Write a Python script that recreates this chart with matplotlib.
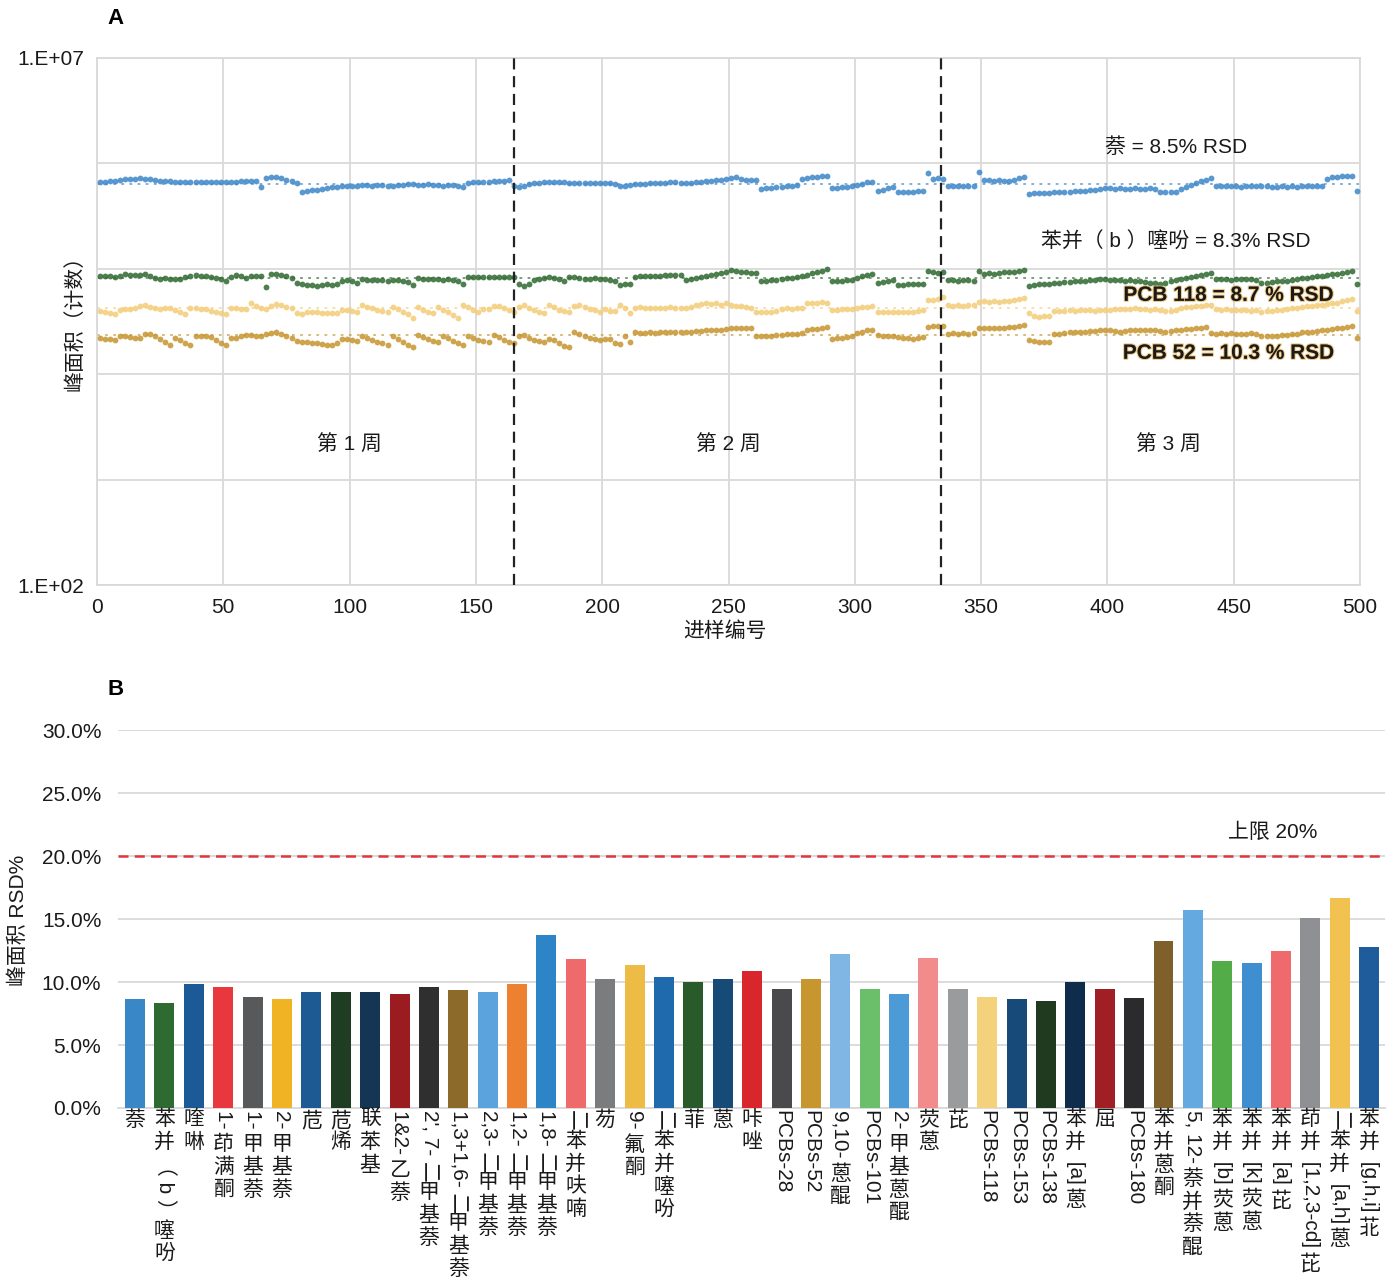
import numpy as np
import matplotlib
matplotlib.use('Agg')
import matplotlib.pyplot as plt
import matplotlib.patheffects as pe
from matplotlib.ticker import FixedLocator, FixedFormatter, NullLocator

plt.rcParams['font.family'] = ['Liberation Sans', 'Noto Sans CJK SC']
plt.rcParams['axes.unicode_minus'] = False

# ---- panel A: peak areas of every other injection over three weeks ----
inj = np.arange(1, 500, 2)

naph = np.array([
    6.66, 6.73, 6.81, 6.88, 6.96, 7.11, 7.19, 7.19, 7.27, 7.19,
    7.11, 6.96, 6.88, 6.81, 6.81, 6.73, 6.73, 6.66, 6.73, 6.66,
    6.66, 6.66, 6.59, 6.66, 6.66, 6.66, 6.73, 6.73, 6.81, 6.81,
    6.81, 6.81, 5.91, 7.27, 7.35, 7.35, 7.27, 7.03, 6.81, 6.52,
    5.41, 5.47, 5.59, 5.65, 5.71, 5.84, 5.91, 5.97, 6.04, 6.10,
    6.17, 6.17, 6.24, 6.24, 6.17, 6.24, 6.24, 6.04, 6.17, 6.24,
    6.24, 6.31, 6.31, 6.24, 6.24, 6.31, 6.24, 6.24, 6.04, 6.24,
    6.24, 6.17, 5.91, 6.52, 6.59, 6.66, 6.73, 6.73, 6.81, 6.81,
    6.88, 6.96, 6.10, 5.91, 6.10, 6.31, 6.45, 6.52, 6.59, 6.59,
    6.59, 6.59, 6.59, 6.52, 6.52, 6.52, 6.45, 6.52, 6.52, 6.45,
    6.45, 6.45, 6.38, 6.04, 6.10, 6.24, 6.31, 6.38, 6.38, 6.45,
    6.45, 6.52, 6.52, 6.59, 6.59, 6.52, 6.45, 6.52, 6.59, 6.66,
    6.81, 6.88, 6.96, 7.03, 7.11, 7.27, 7.35, 7.11, 7.03, 6.96,
    6.96, 5.71, 5.78, 5.84, 5.91, 5.97, 6.10, 6.17, 6.24, 7.19,
    7.27, 7.35, 7.43, 7.52, 7.63, 5.80, 5.84, 5.91, 5.97, 6.04,
    6.24, 6.38, 6.59, 6.66, 5.47, 5.65, 5.78, 5.97, 5.35, 5.35,
    5.41, 5.41, 5.47, 5.47, 8.10, 7.19, 7.27, 7.19, 6.17, 6.17,
    6.17, 6.10, 6.17, 6.17, 8.34, 6.96, 6.96, 6.88, 6.96, 6.81,
    6.81, 7.03, 7.27, 7.43, 5.18, 5.23, 5.23, 5.29, 5.29, 5.35,
    5.35, 5.41, 5.41, 5.47, 5.53, 5.53, 5.59, 5.65, 5.71, 5.78,
    5.78, 5.71, 5.78, 5.71, 5.71, 5.78, 5.71, 5.71, 5.78, 5.71,
    5.41, 5.35, 5.35, 5.41, 5.71, 5.97, 6.24, 6.52, 6.81, 7.03,
    7.22, 6.04, 6.04, 6.10, 6.04, 6.04, 5.97, 6.04, 6.10, 6.04,
    6.04, 6.10, 5.97, 5.97, 6.04, 5.97, 6.04, 5.97, 6.04, 6.04,
    6.04, 6.04, 6.10, 7.19, 7.35, 7.43, 7.52, 7.60, 7.63, 5.47]) * 1e5

bbt = np.array([
    8.54, 8.54, 8.54, 8.45, 8.63, 9.02, 8.82, 8.73, 8.73, 9.02,
    8.54, 8.18, 8.09, 8.18, 8.09, 8.09, 8.00, 8.36, 8.63, 8.73,
    8.63, 8.54, 8.45, 8.27, 8.00, 7.66, 8.36, 8.73, 8.54, 8.27,
    8.63, 8.63, 8.54, 6.65, 8.92, 9.02, 8.82, 8.54, 8.27, 7.33,
    7.10, 7.02, 7.02, 6.94, 7.02, 7.10, 7.02, 7.10, 7.66, 7.83,
    7.58, 7.33, 8.09, 7.91, 7.83, 7.83, 7.83, 7.74, 7.83, 7.83,
    7.74, 7.50, 7.02, 8.18, 8.09, 8.00, 8.00, 8.00, 7.91, 8.00,
    7.91, 7.66, 7.17, 8.36, 8.45, 8.45, 8.45, 8.36, 8.45, 8.45,
    8.45, 8.45, 8.36, 7.25, 6.80, 7.17, 7.83, 8.00, 8.18, 8.45,
    8.27, 8.00, 7.66, 8.36, 8.45, 8.27, 8.09, 8.09, 8.18, 8.09,
    8.00, 7.91, 7.74, 7.02, 7.17, 7.25, 8.45, 8.54, 8.54, 8.54,
    8.63, 8.63, 8.73, 8.73, 8.82, 8.82, 7.83, 8.00, 8.27, 8.45,
    8.63, 8.82, 9.02, 9.22, 9.42, 9.74, 9.53, 9.42, 9.32, 9.22,
    9.22, 7.58, 7.66, 7.83, 7.91, 8.00, 8.18, 8.27, 8.45, 8.63,
    8.82, 9.12, 9.32, 9.63, 9.96, 7.58, 7.66, 7.74, 7.83, 7.83,
    8.18, 8.54, 8.82, 8.92, 7.33, 7.50, 7.66, 7.83, 7.02, 7.02,
    7.10, 7.17, 7.25, 7.25, 9.53, 9.32, 9.22, 9.32, 7.83, 7.83,
    7.74, 7.83, 7.83, 7.74, 9.53, 9.02, 9.12, 9.02, 9.12, 9.32,
    9.32, 9.42, 9.63, 9.74, 6.94, 7.02, 7.10, 7.17, 7.25, 7.33,
    7.33, 7.50, 7.50, 7.58, 7.66, 7.74, 7.83, 7.91, 8.00, 8.09,
    7.83, 7.91, 7.83, 7.74, 7.83, 7.66, 7.58, 7.50, 7.41, 7.33,
    7.25, 7.33, 7.58, 7.83, 8.00, 8.18, 8.36, 8.54, 8.73, 8.92,
    9.06, 8.09, 8.00, 8.00, 7.91, 8.00, 8.09, 8.00, 8.00, 7.91,
    7.33, 7.33, 7.50, 7.58, 7.66, 7.74, 7.91, 8.00, 8.18, 8.27,
    8.36, 8.54, 8.63, 8.73, 8.92, 9.02, 9.22, 9.42, 9.53, 7.10]) * 1e4

pcb118 = np.array([
    3.98, 3.89, 3.81, 3.73, 4.11, 4.15, 4.20, 4.25, 4.44, 4.53,
    4.39, 4.25, 4.15, 4.25, 4.29, 4.11, 3.89, 3.69, 4.29, 4.25,
    4.20, 4.15, 4.02, 3.89, 3.77, 3.69, 4.29, 4.25, 4.20, 4.15,
    4.69, 4.48, 4.29, 4.15, 4.44, 4.63, 4.53, 4.39, 4.25, 3.77,
    3.69, 3.89, 3.93, 3.89, 3.85, 3.81, 3.81, 3.77, 4.07, 4.11,
    4.02, 3.93, 4.53, 4.39, 4.25, 4.11, 4.02, 3.93, 4.34, 4.20,
    3.93, 3.69, 3.45, 4.34, 4.11, 3.89, 3.77, 4.34, 4.11, 3.89,
    3.65, 3.45, 4.53, 4.34, 4.11, 3.93, 4.15, 4.20, 4.44, 4.48,
    4.25, 4.07, 3.93, 4.34, 4.53, 4.29, 4.11, 3.93, 3.81, 4.53,
    4.34, 4.11, 3.98, 3.89, 4.44, 4.58, 4.39, 4.20, 4.07, 3.93,
    4.15, 4.02, 3.98, 4.53, 4.25, 3.81, 4.29, 4.34, 4.25, 4.29,
    4.29, 4.25, 4.29, 4.34, 4.29, 4.25, 4.29, 4.39, 4.53, 4.63,
    4.69, 4.63, 4.69, 4.58, 4.69, 4.53, 4.48, 4.44, 4.39, 4.29,
    3.93, 3.93, 3.89, 3.93, 3.98, 4.20, 4.25, 4.20, 4.25, 4.25,
    4.79, 4.74, 4.79, 4.84, 4.79, 4.07, 4.11, 4.15, 4.20, 4.20,
    4.29, 4.34, 4.39, 4.44, 3.93, 3.93, 3.93, 3.89, 3.93, 3.93,
    3.93, 3.93, 4.02, 4.07, 5.01, 5.06, 5.12, 5.40, 4.53, 4.48,
    4.53, 4.48, 4.53, 4.53, 4.84, 4.90, 4.84, 4.90, 4.84, 4.90,
    4.95, 5.06, 5.17, 5.23, 3.77, 3.53, 3.49, 3.53, 3.53, 3.98,
    4.02, 3.98, 4.07, 4.02, 4.11, 4.07, 4.11, 4.02, 4.07, 4.11,
    4.11, 4.15, 4.20, 4.15, 4.20, 4.25, 4.20, 4.15, 4.11, 4.15,
    4.07, 3.98, 4.02, 4.11, 4.25, 4.34, 4.39, 4.44, 4.48, 4.53,
    4.53, 4.15, 4.11, 4.15, 4.11, 4.07, 4.11, 4.07, 4.02, 4.07,
    3.93, 3.98, 4.02, 4.07, 4.11, 4.15, 4.25, 4.29, 4.34, 4.44,
    4.48, 4.53, 4.58, 4.63, 4.74, 4.79, 4.90, 5.01, 5.12, 4.02]) * 1e4

pcb52 = np.array([
    2.21, 2.18, 2.16, 2.11, 2.30, 2.28, 2.25, 2.23, 2.21, 2.41,
    2.43, 2.30, 2.16, 2.02, 1.91, 2.21, 2.09, 1.98, 1.89, 2.30,
    2.30, 2.28, 2.25, 2.11, 1.98, 1.89, 2.21, 2.23, 2.28, 2.35,
    2.35, 2.33, 2.28, 2.41, 2.46, 2.49, 2.41, 2.30, 2.21, 2.07,
    2.02, 2.00, 1.98, 1.96, 1.93, 1.91, 1.89, 1.98, 2.16, 2.18,
    2.11, 2.07, 2.30, 2.23, 2.13, 2.04, 1.96, 1.89, 2.28, 2.16,
    2.02, 1.91, 1.83, 2.38, 2.25, 2.16, 2.07, 2.04, 2.33, 2.21,
    2.07, 1.96, 1.89, 2.33, 2.23, 2.13, 2.07, 2.04, 2.35, 2.25,
    2.13, 2.02, 1.96, 2.30, 2.35, 2.23, 2.13, 2.07, 2.04, 2.18,
    2.09, 1.98, 1.87, 1.83, 2.51, 2.41, 2.33, 2.23, 2.16, 2.11,
    2.18, 2.16, 1.98, 1.93, 2.30, 2.04, 2.51, 2.46, 2.46, 2.49,
    2.46, 2.49, 2.49, 2.51, 2.51, 2.54, 2.51, 2.54, 2.57, 2.57,
    2.60, 2.60, 2.63, 2.63, 2.66, 2.72, 2.72, 2.75, 2.72, 2.75,
    2.28, 2.30, 2.28, 2.33, 2.35, 2.38, 2.41, 2.41, 2.43, 2.46,
    2.63, 2.66, 2.69, 2.72, 2.78, 2.18, 2.21, 2.23, 2.25, 2.28,
    2.46, 2.54, 2.60, 2.63, 2.38, 2.33, 2.30, 2.28, 2.25, 2.23,
    2.21, 2.18, 2.23, 2.25, 2.81, 2.84, 2.87, 2.84, 2.43, 2.46,
    2.43, 2.46, 2.43, 2.46, 2.72, 2.75, 2.72, 2.75, 2.72, 2.75,
    2.78, 2.81, 2.87, 2.90, 2.11, 2.07, 2.04, 2.02, 2.04, 2.41,
    2.43, 2.46, 2.49, 2.51, 2.51, 2.54, 2.57, 2.57, 2.60, 2.60,
    2.60, 2.57, 2.54, 2.57, 2.60, 2.63, 2.60, 2.63, 2.63, 2.60,
    2.57, 2.54, 2.57, 2.60, 2.63, 2.66, 2.69, 2.72, 2.75, 2.78,
    2.46, 2.43, 2.46, 2.43, 2.46, 2.43, 2.41, 2.43, 2.46, 2.43,
    2.28, 2.28, 2.30, 2.33, 2.35, 2.38, 2.41, 2.43, 2.49, 2.51,
    2.54, 2.57, 2.60, 2.63, 2.69, 2.72, 2.75, 2.81, 2.84, 2.21]) * 1e4

week_breaks = [165, 334]
week_names = ['第 1 周', '第 2 周', '第 3 周']
week_centers = [100, 250, 424]

series = [
    (naph, '#3d86c8', '萘 = 8.5% RSD', False, (427, 1.43e6)),
    (bbt, '#2f6a30', '苯并（ b ）噻吩 = 8.3% RSD', False, (427, 1.79e5)),
    (pcb118, '#f3cd78', 'PCB 118 = 8.7 % RSD', True, (448, 5.6e4)),
    (pcb52, '#c6952f', 'PCB 52 = 10.3 % RSD', True, (448, 1.58e4)),
]

# ---- panel B: RSD of every compound ----
compounds = ['萘', '苯并（ b ）噻吩', '喹啉', '1- 茚满酮', '1- 甲基萘', '2- 甲基萘', '苊', '苊烯',
             '联苯基', '1&2- 乙萘', "2', 7- 二甲基萘", '1,3+1,6- 二甲基萘', '2,3- 二甲基萘',
             '1,2- 二甲基萘', '1,8- 二甲基萘', '二苯并呋喃', '芴', '9- 氟酮', '二苯并噻吩', '菲', '蒽',
             '咔唑', 'PCBs-28', 'PCBs-52', '9,10- 蒽醌', 'PCBs-101', '2- 甲基蒽醌', '荧蒽', '芘',
             'PCBs-118', 'PCBs-153', 'PCBs-138', '苯并 [a] 蒽', '屈', 'PCBs-180', '苯并蒽酮',
             '5, 12- 萘并萘醌', '苯并 [b] 荧蒽', '苯并 [k] 荧蒽', '苯并 [a] 芘', '茚并 [1,2,3-cd] 芘',
             '二苯并 [a,h] 蒽', '苯并 [g,h,i] 苝']
rsd = [8.65, 8.35, 9.85, 9.6, 8.8, 8.65, 9.2, 9.2, 9.2, 9.05,
       9.6, 9.35, 9.2, 9.85, 13.75, 11.85, 10.25, 11.35, 10.4, 10.0,
       10.25, 10.85, 9.45, 10.25, 12.2, 9.45, 9.05, 11.9, 9.45, 8.8,
       8.65, 8.5, 10.0, 9.45, 8.75, 13.25, 15.7, 11.65, 11.5, 12.45,
       15.05, 16.65, 12.8]
bar_colors = ['#3a87c8', '#2e6b30', '#1b5a96', '#e8383d', '#58595b', '#f0b323', '#1d5a94',
              '#1f3d22', '#153555', '#9b1c20', '#2f2f2f', '#8c6b2a', '#5ba3dc', '#ee8130',
              '#2d84c6', '#ef6b6b', '#7b7c7e', '#ecbc45', '#1f6aac', '#285a2a', '#164a77',
              '#d9262c', '#4a4a4c', '#c8962e', '#7fb6e3', '#6bbf6b', '#4d9bd6', '#f28b8b',
              '#9a9b9d', '#f4d27c', '#174a78', '#1f3a1f', '#0f2c4c', '#a01f24', '#2b2b2d',
              '#7f5f2a', '#64a9e0', '#52ad48', '#3f8ed0', '#ee6a6d', '#8f9093', '#f2c250',
              '#1f5c9c']
limit = 20.0

grid_c = '#d9d9d9'
txt_c = '#1a1a1a'
fs = 15

fig = plt.figure(figsize=(13.92, 12.83), dpi=100)

# ---------------- panel A ----------------
ax = fig.add_axes([0.0697, 0.544, 0.9073, 0.4108])
ax.set_yscale('log')
ax.set_xlim(0, 500)
ax.set_ylim(1e2, 1e7)
ax.yaxis.set_major_locator(FixedLocator([1e2, 1e3, 1e4, 1e5, 1e6, 1e7]))
ax.yaxis.set_major_formatter(FixedFormatter(['1.E+02', '', '', '', '', '1.E+07']))
ax.yaxis.set_minor_locator(NullLocator())
ax.set_xticks(np.arange(0, 501, 50))
ax.tick_params(length=0, labelsize=fs, colors=txt_c, pad=9)
ax.grid(True, color=grid_c, lw=1.3)
ax.set_axisbelow(True)
for sp in ax.spines.values():
    sp.set_color(grid_c)
    sp.set_linewidth(1.3)

for vals, col, label, bold, (lx, ly) in series:
    ax.axhline(vals.mean(), color=col, ls=(0, (1.5, 3)), lw=1.3, alpha=0.7, zorder=2)
    ax.plot(inj, vals, 'o', ms=4.2, mew=0, color=col, alpha=0.85, zorder=3)
    t = ax.text(lx, ly, label, fontsize=fs, ha='center', va='center', color=txt_c,
                fontweight='bold' if bold else 'normal', zorder=5)
    if bold:
        t.set_path_effects([pe.withStroke(linewidth=1.6, foreground='#e8b55a', alpha=0.7)])

for xb in week_breaks:
    ax.axvline(xb, color='#222222', ls=(0, (5, 3)), lw=1.6, zorder=4)
for name, xc in zip(week_names, week_centers):
    ax.text(xc, 2.13e3, name, fontsize=fs, ha='center', va='center', color=txt_c)

fig.text(725 / 1392, 1 - 631 / 1283, '进样编号', fontsize=fs, ha='center', va='center', color=txt_c)
fig.text(75 / 1392, 1 - 318 / 1283, '峰面积（计数）', fontsize=fs, ha='center', va='center',
         rotation=90, color=txt_c)
fig.text(115 / 1392, 1 - 18 / 1283, 'A', fontsize=16, fontweight='bold', ha='center', va='center')

# ---------------- panel B ----------------
axb = fig.add_axes([0.0848, 0.1364, 0.9102, 0.2946])
pos = np.arange(len(compounds))
axb.bar(pos, rsd, width=0.68, color=bar_colors, zorder=3)
axb.axhline(limit, color='#e2363c', ls=(0, (4, 2.5)), lw=1.8, zorder=4)
axb.text(38.7, 21.9, '上限 20%', fontsize=fs, ha='center', va='center', color=txt_c)
axb.set_xlim(-0.58, len(compounds) - 0.46)
axb.set_ylim(0, 30)
axb.set_yticks(np.arange(0, 31, 5))
axb.set_yticklabels([f'{v:.1f}%' for v in np.arange(0, 31, 5)])
axb.set_xticks([])
axb.tick_params(length=0, labelsize=fs, colors=txt_c, pad=12)
axb.grid(True, axis='y', color=grid_c, lw=1.3)
axb.set_axisbelow(True)
for s in ['left', 'right', 'top']:
    axb.spines[s].set_visible(False)
axb.spines['bottom'].set_color(grid_c)
axb.spines['bottom'].set_linewidth(1.3)

fig.text(18 / 1392, 1 - 920 / 1283, '峰面积 RSD%', fontsize=fs, ha='center', va='center',
         rotation=90, color=txt_c)
fig.text(116 / 1392, 1 - 690 / 1283, 'B', fontsize=16, fontweight='bold', ha='center', va='center')


# compound names run downward: ideographs stay upright, other runs are turned
def upright(ch):
    return '\u4e00' <= ch <= '\u9fff' and ch != '二'


fig.canvas.draw()
renderer = fig.canvas.get_renderer()
for i, name in enumerate(compounds):
    runs = []
    for ch in name:
        if upright(ch):
            runs.append([ch, True])
        elif runs and not runs[-1][1]:
            runs[-1][0] += ch
        else:
            runs.append([ch, False])
    off = 1.5
    for text, up in runs:
        kw = dict(xy=(i, 0), xycoords=('data', 'axes fraction'), textcoords='offset points',
                  ha='center', va='top', fontsize=fs, color=txt_c)
        if up:
            axb.annotate(text, xytext=(0, -off), **kw)
            off += 16.3
        else:
            t = axb.annotate(text, xytext=(0, -off), rotation=-90, **kw)
            off += t.get_window_extent(renderer).height * 72 / fig.dpi + 0.5

fig.savefig('out.png', dpi=100)
